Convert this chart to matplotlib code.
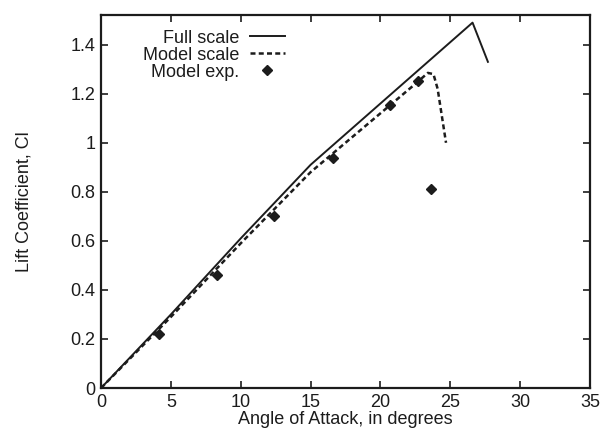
import numpy as np
import matplotlib
matplotlib.use("Agg")
import matplotlib.pyplot as plt
from matplotlib.ticker import FormatStrFormatter

# lift curves, angle of attack in degrees
full_alpha = [0, 5, 10, 15, 20, 26.6, 27.7]
full_cl = [0, 0.30, 0.61, 0.91, 1.16, 1.49, 1.33]

model_alpha = [0, 5, 10, 15, 20, 22.5, 23.4, 23.8, 24.1, 24.7]
model_cl = [0, 0.29, 0.59, 0.88, 1.12, 1.24, 1.285, 1.28, 1.22, 1.0]

exp_alpha = [4.15, 8.3, 12.4, 16.6, 20.7, 22.7, 23.6]
exp_cl = [0.22, 0.46, 0.70, 0.94, 1.155, 1.25, 0.81]

x_ticks = [0, 5, 10, 15, 20, 25, 30, 35]
y_ticks = [0, 0.2, 0.4, 0.6, 0.8, 1.0, 1.2, 1.4]

ink = "#1c1c1c"
plt.rcParams["font.family"] = ["Liberation Sans", "DejaVu Sans"]
plt.rcParams["text.color"] = ink

fig = plt.figure(figsize=(6.05, 4.36), dpi=100)
ax = fig.add_axes([0.167, 0.11, 0.808, 0.855])

ax.plot(full_alpha, full_cl, color=ink, lw=1.4, label="Full scale")
ax.plot(model_alpha, model_cl, color=ink, lw=1.8, ls=(0, (2.0, 1.3)), label="Model scale")
ax.plot(exp_alpha, exp_cl, ls="none", marker="D", ms=5, color=ink, label="Model exp.")

ax.set_xlim(0, 35)
ax.set_ylim(0, 1.52)
ax.set_xticks(x_ticks)
ax.set_yticks(y_ticks)
ax.yaxis.set_major_formatter(FormatStrFormatter("%g"))
ax.tick_params(direction="in", top=True, right=True, length=5, width=1.2,
               labelsize=13, colors=ink, pad=4)
for s in ax.spines.values():
    s.set_linewidth(1.6)
    s.set_color(ink)

ax.set_xlabel("Angle of Attack, in degrees", fontsize=13, labelpad=0, color=ink)
ax.set_ylabel("Lift Coefficient, Cl", fontsize=13, labelpad=27, color=ink)

ax.legend(loc="upper left", bbox_to_anchor=(0.06, 0.995), markerfirst=False,
          frameon=False, fontsize=13, handlelength=1.9, handletextpad=0.6,
          labelspacing=0.0, borderpad=0.2)

fig.savefig("out.png", dpi=100)
